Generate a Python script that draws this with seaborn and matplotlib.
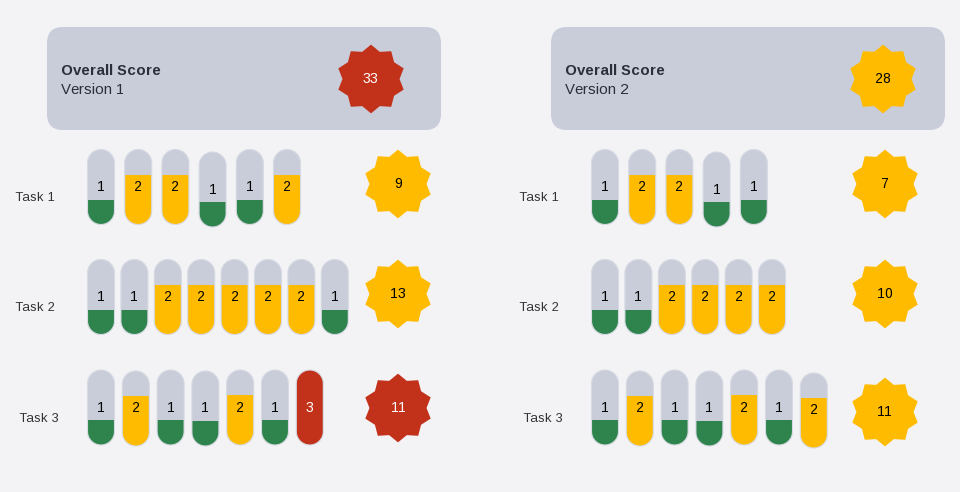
import matplotlib
matplotlib.use("Agg")
import matplotlib.pyplot as plt
import seaborn as sns
import pandas as pd
import numpy as np
from matplotlib.patches import FancyBboxPatch, Rectangle, Polygon
from matplotlib.path import Path

# data
versions = ["Version 1", "Version 2"]
tasks = ["Task 1", "Task 2", "Task 3"]
v1_scores = [[1, 2, 2, 1, 1, 2],
             [1, 1, 2, 2, 2, 2, 2, 1],
             [1, 2, 1, 1, 2, 1, 3]]
v2_scores = [[1, 2, 2, 1, 1],
             [1, 1, 2, 2, 2, 2],
             [1, 2, 1, 1, 2, 1, 2]]
v1_task_totals = [9, 13, 11]
v2_task_totals = [7, 10, 11]
overall_totals = [33, 28]

# colours
bg = "#f3f3f6"
panel = "#c8cdd9"
pill_grey = "#c8cdd9"
green = "#2f844e"
yellow = "#ffbb00"
red = "#c2311a"
text_dark = "#2b2f3a"
fill_col = {1: green, 2: yellow, 3: red}

# layout (pixels, figure is 960x492)
panel_x = [47, 551]
pill_x0 = [101, 605]
pill_step = [37.2, 33.4, 34.8]
row_y = [187, 297, 407.5]
star_x = [398, 885]
star_y = [[184, 294, 408], [184, 294, 412]]
label_dx = [-86, -86, -82]
nudge = {(0, 0): [0, 0, 0, 2.5, 0, 0], (0, 2): [0, 1, 0, 1, 0, 0, 0],
         (1, 0): [0, 0, 0, 2.5, 0], (1, 2): [0, 1, 0, 1, 0, 0, 3]}
pill_w, pill_h = 27, 75

sns.set_theme(style="white")
plt.rcParams["font.family"] = ["Liberation Sans", "DejaVu Sans"]
plt.rcParams["text.hinting_factor"] = 1

fig = plt.figure(figsize=(9.6, 4.92), dpi=100, facecolor=bg)
ax = fig.add_axes([0, 0, 1, 1])
ax.set_facecolor(bg)
ax.set_xlim(0, 960)
ax.set_ylim(492, 0)
ax.axis("off")

# 10 point star with shallow spikes, used as a marker
ang_out = np.deg2rad(90 + 36 * np.arange(10))
ang_in = ang_out + np.deg2rad(18)
verts = []
for a, b in zip(ang_out, ang_in):
    verts.append((np.cos(a), np.sin(a)))
    verts.append((0.83 * np.cos(b), 0.83 * np.sin(b)))
verts.append(verts[0])
star = Path(verts, closed=True)


def pill_outline(cx, top):
    r = pill_w / 2
    th = np.linspace(np.pi, 2 * np.pi, 30)
    top_arc = np.column_stack([cx + r * np.cos(th), top + r + r * np.sin(th)])
    th2 = np.linspace(0, np.pi, 30)
    bot_arc = np.column_stack([cx + r * np.cos(th2), top + pill_h - r + r * np.sin(th2)])
    return np.vstack([top_arc, bot_arc])


star_rows = []
for v, (scores, totals) in enumerate([(v1_scores, v1_task_totals), (v2_scores, v2_task_totals)]):
    # overall panel
    ax.add_patch(FancyBboxPatch((panel_x[v], 27), 394, 103,
                                boxstyle="round,pad=0,rounding_size=16",
                                facecolor=panel, edgecolor="none"))
    ax.text(panel_x[v] + 14, 71, "Overall Score", fontsize=11, fontweight="bold",
            color=text_dark, va="center")
    ax.text(panel_x[v] + 14, 90, versions[v], fontsize=11, color=text_dark, va="center")
    worst = max(max(s) for s in scores)
    star_rows.append({"x": star_x[v] - (27 if v == 0 else 2), "y": 79,
                      "label": overall_totals[v], "level": "red" if worst == 3 else "yellow"})

    for t, row in enumerate(scores):
        ax.text(pill_x0[v] + label_dx[t], row_y[t] + 11, tasks[t], fontsize=9.2,
                color="#333333", va="center")
        offs = nudge.get((v, t), [0] * len(row))
        for i, s in enumerate(row):
            cx = pill_x0[v] + i * pill_step[t]
            top = row_y[t] - pill_h / 2 + offs[i]
            pts = pill_outline(cx, top)
            body = Polygon(pts, closed=True, facecolor=pill_grey, edgecolor="none")
            ax.add_patch(body)
            h = pill_h * s / 3
            fill = Rectangle((cx - pill_w / 2, top + pill_h - h), pill_w, h,
                             facecolor=fill_col[s], edgecolor="none")
            ax.add_patch(fill)
            fill.set_clip_path(body)
            ax.add_patch(Polygon(pts, closed=True, facecolor="none",
                                 edgecolor="#d6dae2", lw=0.8))
            ax.text(cx, top + pill_h / 2, str(s), fontsize=10, ha="center", va="center",
                    color="white" if s == 3 else "black")
        star_rows.append({"x": star_x[v], "y": star_y[v][t], "label": totals[t],
                          "level": "red" if max(row) == 3 else "yellow"})

stars = pd.DataFrame(star_rows)
sns.scatterplot(data=stars, x="x", y="y", hue="level",
                palette={"red": red, "yellow": yellow}, marker=star, s=2450,
                edgecolor="none", linewidth=0, legend=False, ax=ax, zorder=3)
for _, r in stars.iterrows():
    ax.text(r["x"], r["y"], str(r["label"]), fontsize=10, ha="center", va="center",
            color="white" if r["level"] == "red" else "black", zorder=4)

ax.set_xlim(0, 960)
ax.set_ylim(492, 0)
ax.set_xlabel("")
ax.set_ylabel("")
fig.savefig("out.png", dpi=100, facecolor=bg)
